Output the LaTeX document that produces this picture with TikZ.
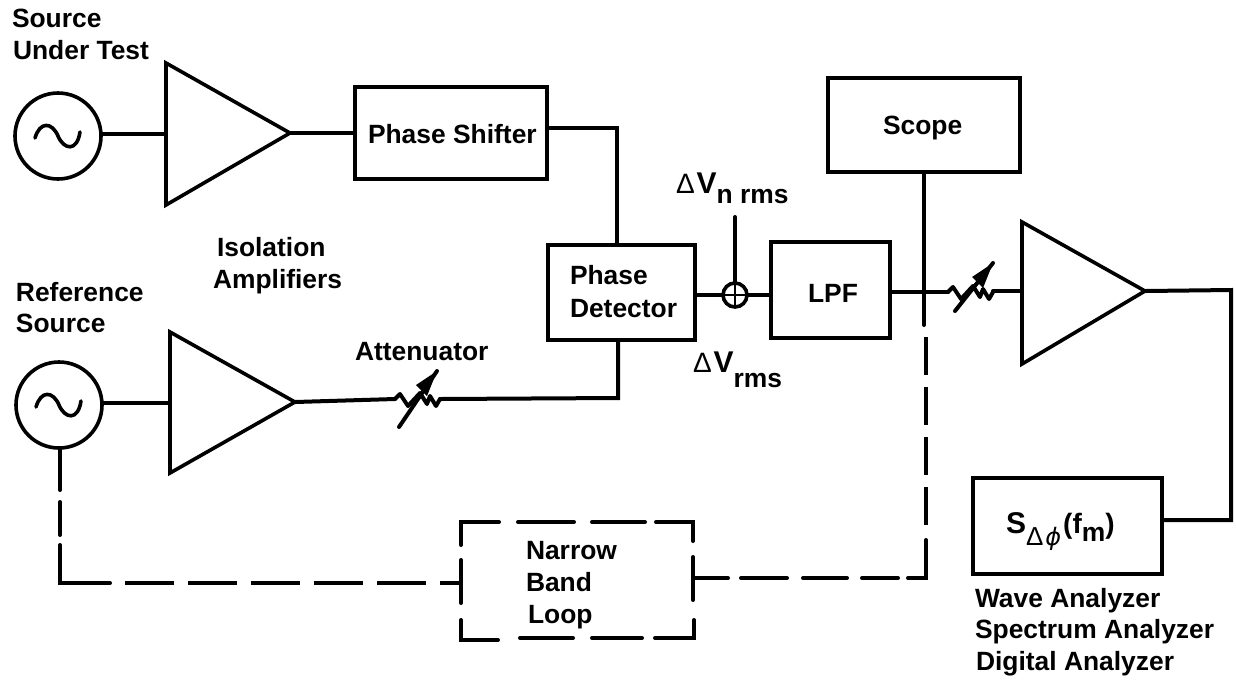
\documentclass[tikz,border=0pt]{standalone}
\usepackage{fontspec}
\setmainfont{Liberation Sans}
\newfontfamily\symfont{DejaVu Sans}
\tikzset{
  every node/.style={outer sep=0pt,inner sep=0pt},
  wire/.style={line width=2pt,line cap=round,line join=miter},
  fine/.style={line width=1.8pt,line join=miter},
  blockbox/.style={draw,line width=2pt,rectangle},
  srcnode/.style={draw,line width=1.8pt,circle,minimum size=43pt},
  lbl/.style={anchor=base west,font=\fontsize{13.2}{13.2}\selectfont\bfseries},
  dashseg/.style={line width=2pt,line cap=round,line join=miter},
  longdash/.style={line width=2pt,dash pattern=on 24.5pt off 7pt},
  vdash/.style={line width=2pt,dash pattern=on 19pt off 6pt}
}
\newcommand{\sinewave}[2]{%
  \draw[line width=1.8pt,line cap=round,shift={(#1,#2)}]
    (-23,2) .. controls (-18,-15) and (-6,-14) .. (0,0)
    .. controls (6,14) and (19,16) .. (22,-4);}
\newcommand{\attensym}[6]{%
  \draw[line width=2pt,line cap=round,line join=round,shift={(#1,#2)}]
    (0,0) -- (5,-5) -- (13,7) -- (25,-6) -- (32,5) -- (35,-3) -- (41,7) -- (45,0);
  \draw[line width=2pt,line cap=round,shift={(#1,#2)}] (#3,#4) -- (#5,#6);
  \fill[shift={(#1,#2)}] (#5,#6) -- ++(-10,25) -- ++(-11,-11) -- cycle;}
\begin{document}
\begin{tikzpicture}[x=0.5pt,y=-0.5pt]
\useasboundingbox (0,0) rectangle (1236,682);
% sources
\node[srcnode] (src1) at (58,136) {};
\node[srcnode] (src2) at (59,405) {};
\sinewave{58}{136}
\sinewave{59}{405}
% amplifiers
\coordinate (amp1in) at (166,134); \coordinate (amp1out) at (290,133);
\coordinate (amp2in) at (170,403); \coordinate (amp2out) at (295,402);
\coordinate (amp3in) at (1022,291); \coordinate (amp3out) at (1145,291);
\draw[fine] (166,63) -- (166,205) -- (amp1out) -- cycle;
\draw[fine] (170,332) -- (170,473) -- (amp2out) -- cycle;
\draw[fine] (1022,222) -- (1022,364) -- (amp3out) -- cycle;
% boxes
\node[blockbox,minimum width=96pt,minimum height=46pt] (ps) at (451,133) {};
\node[blockbox,minimum width=73.5pt,minimum height=47.5pt] (det) at (621.5,292.5) {};
\node[blockbox,minimum width=59.5pt,minimum height=48pt] (lpf) at (830.5,290) {};
\node[blockbox,minimum width=96pt,minimum height=47pt] (scope) at (924,125) {};
\node[blockbox,minimum width=94.5pt,minimum height=48pt] (ana) at (1067.5,526) {};
\node[minimum width=116pt,minimum height=58pt] (nbl) at (577,580) {};
\node[draw,line width=1.8pt,circle,minimum size=12pt] (sum) at (735,295) {};
\draw[line width=1pt] (sum.north) -- (sum.south) (sum.west) -- (sum.east);
% narrow band loop outline
\draw[dashseg] (461,545) -- (461,522) -- (499,522);
\draw[dashseg] (518,522) -- (574,522);
\draw[dashseg] (592,522) -- (645,522);
\draw[dashseg] (656,522) -- (693,522) -- (693,541);
\draw[dashseg] (693,557) -- (693,600);
\draw[dashseg] (694,620) -- (694,638) -- (655,638);
\draw[dashseg] (642,638) -- (592,638);
\draw[dashseg] (573,638) -- (520,638);
\draw[dashseg] (498,640) -- (461,640) -- (461,620);
\draw[dashseg] (461,603) -- (461,560);
% coordinates
\coordinate (a1in) at (395,399); \coordinate (a1out) at (440,399);
\coordinate (a2in) at (948,292); \coordinate (a2out) at (993,291);
\coordinate (w1) at (617,128);
\coordinate (w2) at (618,398);
\coordinate (w3) at (1231,290);
\coordinate (w4) at (1231,520);
\coordinate (top) at (735,217);
\coordinate (sc1) at (924,325);
\coordinate (sc2) at (926,337);
\coordinate (sc3) at (926,527);
\coordinate (l1) at (60,490);
\coordinate (l2) at (60,502);
\coordinate (l2e) at (60,535);
\coordinate (l3) at (60,545);
\coordinate (l4) at (60,583);
\coordinate (l5) at (461,581);
\coordinate (r0) at (926,540);
\coordinate (r1) at (926,578);
% solid connectors
\draw[wire] (amp1in -| src1.east) -- (amp1in);
\draw[wire] (amp1out) -- (amp1out -| ps.west);
\draw[wire] (w1 -| ps.east) -- (w1) -- (w1 |- det.north);
\draw[wire] (amp2in -| src2.east) -- (amp2in);
\draw[wire] (amp2out) -- (a1in);
\draw[wire] (a1out) -- (w2) -- (w2 |- det.south);
\draw[wire] (sum.west -| det.east) -- (sum.west);
\draw[wire] (sum.east) -- (sum.east -| lpf.west);
\draw[wire] (sum.north) -- (top);
\draw[wire] (a2in -| lpf.east) -- (a2in);
\draw[wire] (a2out) -- (a2out -| amp3in);
\draw[wire] (amp3out) -- (w3) -- (w4) -- (w4 -| ana.east);
\draw[wire] (scope.south) -- (sc1);
\attensym{395}{399}{4}{28}{42}{-28}
\attensym{948}{292}{7}{19}{45}{-29}
% dashed connectors
\draw[wire] (src2.south -| l1) -- (l1);
\draw[wire] (l2) -- (l2e);
\draw[wire] (l3) -- (l4) -- (110,583);
\draw[longdash] (125,583) -- (l4 -| nbl.west);
\draw[wire] (693,578) -- (728,578);
\draw[wire] (741,578) -- (787,578);
\draw[wire] (803,578) -- (847,578);
\draw[wire] (862,578) -- (898,578);
\draw[wire] (908,578) -- (r1) -- (r0);
\draw[vdash] (sc2) -- (sc3);
% labels
\node[lbl] (t1) at (12,27) {Source};
\node[lbl] (t2) at (13,59) {Under Test};
\node[lbl] (t3) at (16,301) {Reference};
\node[lbl] (t4) at (16,332) {Source};
\node[lbl] (t5) at (217,256) {Isolation};
\node[lbl] (t6) at (213,288) {Amplifiers};
\node[lbl] (t7) at (368,143) {Phase Shifter};
\node[lbl] (t8) at (355,360) {Attenuator};
\node[lbl] (t9) at (570,284) {Phase};
\node[lbl] (t10) at (570,317) {Detector};
\node[lbl] (t11) at (808,302) {LPF};
\node[lbl] (t12) at (883,134) {Scope};
\node[lbl] (t13) at (526,559) {Narrow};
\node[lbl] (t14) at (526,591) {Band};
\node[lbl] (t15) at (528,623) {Loop};
\node[lbl] (t16) at (975,607) {Wave Analyzer};
\node[lbl] (t17) at (975,638) {Spectrum Analyzer};
\node[lbl] (t18) at (976,670) {Digital Analyzer};
\node[lbl] (t19) at (676,193) {{\fontsize{14}{14}\selectfont\mdseries Δ}\kern1pt{\fontsize{15}{15}\selectfont V}\raisebox{-5pt}{n rms}};
\node[lbl] (t20) at (693,372) {{\fontsize{14}{14}\selectfont\mdseries Δ}\kern1pt{\fontsize{15}{15}\selectfont V}\raisebox{-7.5pt}{rms}};
\node[lbl] (t21) at (1006,533) {{\fontsize{15}{15}\selectfont S}\raisebox{-6pt}{{\fontsize{13}{13}\selectfont\mdseries Δ}\kern1pt{\symfont\mdseries\itshape\fontsize{12}{12}\selectfont ϕ}}\kern1pt{\fontsize{14}{14}\selectfont (f}\raisebox{-4pt}{m}{\fontsize{14}{14}\selectfont )}};
\end{tikzpicture}
\end{document}
